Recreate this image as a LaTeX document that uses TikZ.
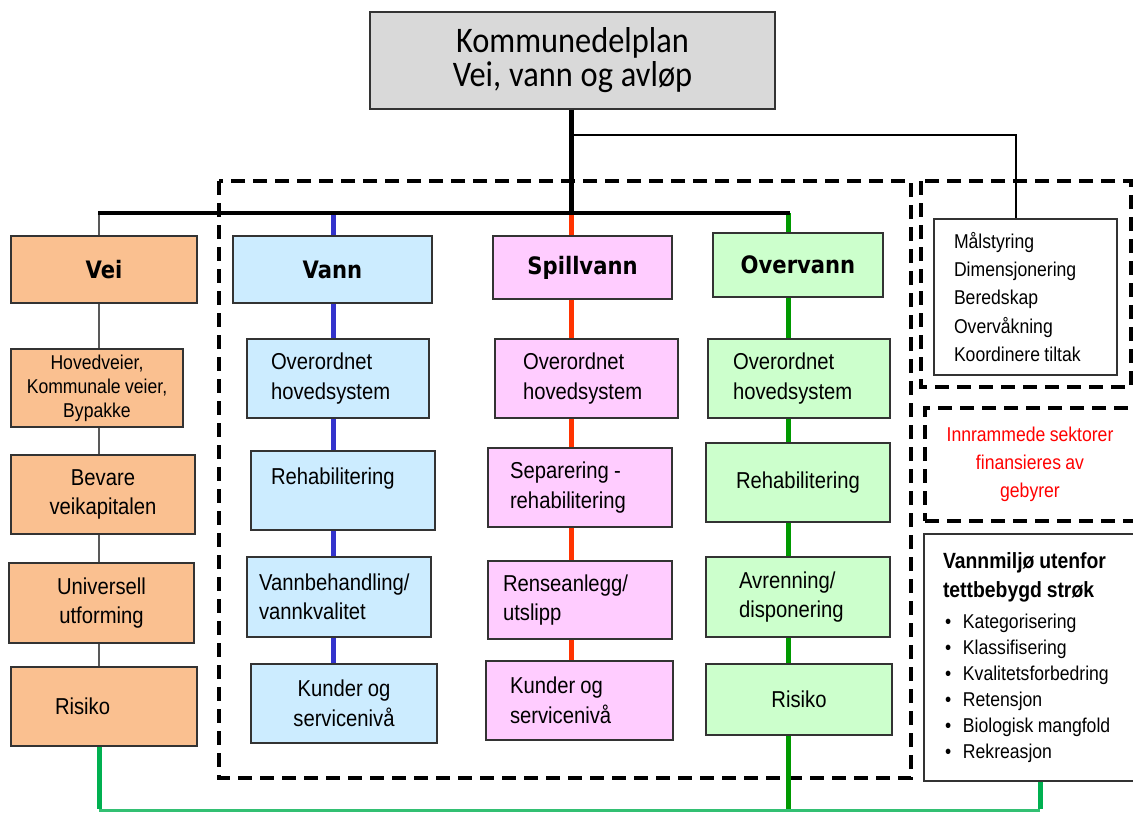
\documentclass[tikz,border=0pt]{standalone}
\usepackage{fontspec}
\setmainfont{Liberation Sans}[FakeStretch=0.88]
\newfontfamily\titlefnt{DejaVu Sans}[FakeStretch=0.88]
\newfontfamily\planfnt{Carlito}[FakeStretch=0.9]
\usepackage{tikz}

\newcommand{\tightspace}{\spaceskip=0.22em plus 0.05em minus 0.02em\relax}
\newcommand{\bodyfnt}{\fontsize{23pt}{29.5pt}\selectfont\tightspace}
\newcommand{\smallfnt}{\fontsize{20pt}{24pt}\selectfont\tightspace}
\newcommand{\notefnt}{\fontsize{20pt}{28.3pt}\selectfont\tightspace}

\definecolor{planfill}{HTML}{D9D9D9}
\definecolor{veifill}{HTML}{FAC090}
\definecolor{vannfill}{HTML}{CCECFF}
\definecolor{spillfill}{HTML}{FFCCFF}
\definecolor{overfill}{HTML}{CCFFCC}
\definecolor{vannblue}{HTML}{3333CC}
\definecolor{spillred}{HTML}{FF3300}
\definecolor{overgreen}{HTML}{009900}
\definecolor{groundgreen}{HTML}{00B050}
\definecolor{veigray}{HTML}{595959}

\begin{document}
\begin{tikzpicture}[x=1pt, y=-1pt, thick]
    % Styles
    \tikzstyle{cell} = [rectangle, draw=black!80, line width=1.2pt, inner ysep=0pt, align=left, font=\bodyfnt, execute at begin node={\tightspace}]
    \tikzstyle{titlecell} = [align=center, font=\titlefnt\bfseries\fontsize{24pt}{28pt}\selectfont]
    \tikzstyle{planbox} = [cell, fill=planfill, align=center, font=\planfnt\fontsize{36pt}{34pt}\selectfont]
    \tikzstyle{veibox} = [cell, fill=veifill]
    \tikzstyle{vannbox} = [cell, fill=vannfill]
    \tikzstyle{spillbox} = [cell, fill=spillfill]
    \tikzstyle{overbox} = [cell, fill=overfill]
    \tikzstyle{dashframe} = [draw, line width=3.5pt, dash pattern=on 14pt off 8pt]
    \tikzstyle{trunkline} = [draw, line width=5pt]
    \tikzstyle{busline} = [draw, line width=4pt]
    \tikzstyle{forkline} = [draw, line width=2.5pt]
    \tikzstyle{veiline} = [draw, veigray, line width=2pt]
    \tikzstyle{vannline} = [draw, vannblue, line width=5pt]
    \tikzstyle{spillline} = [draw, spillred, line width=5pt]
    \tikzstyle{overline} = [draw, overgreen, line width=5pt]
    \tikzstyle{groundline} = [draw, groundgreen, line width=5pt]
    \tikzstyle{groundthin} = [draw, groundgreen!80, line width=3pt]

    \useasboundingbox (0,0) rectangle (1133,812);
    \fill[white] (0,0) rectangle (1133,812);

    % Frames for the sectors paid by fees
    \draw[dashframe] (219,181) rectangle (911,778);
    \draw[dashframe] (921,181) rectangle (1131,387);

    % Coordinates
    \coordinate (veix) at (99,213);
    \coordinate (vannx) at (333,213);
    \coordinate (spillx) at (571,213);
    \coordinate (overx) at (788,213);
    \coordinate (fork) at (571,135);
    \coordinate (ground) at (0,810);

    % Nodes
    \node [planbox, minimum width=405pt, minimum height=97pt] (plan) at (572.5,60.5) {Kommunedelplan\\Vei, vann og avløp};

    \node [veibox, titlecell, minimum width=186pt, minimum height=67pt] (vei0) at (104,269.5) {Vei};
    \node [veibox, align=center, font=\smallfnt, minimum width=172pt, minimum height=78pt] (vei1) at (97,388) {Hovedveier,\\Kommunale veier,\\Bypakke};
    \node [veibox, align=center, minimum width=184pt, minimum height=79pt] (vei2) at (103,494.5) {Bevare\\veikapitalen};
    \node [veibox, align=center, minimum width=185pt, minimum height=80pt] (vei3) at (101.5,603) {Universell\\utforming};
    \node [veibox, text width=98pt, inner xsep=44pt, minimum height=79pt] (vei4) at (104,706.5) {Risiko};

    \node [vannbox, titlecell, minimum width=199pt, minimum height=67pt] (vann0) at (332.5,269.5) {Vann};
    \node [vannbox, text width=134pt, inner xsep=24pt, minimum height=79pt] (vann1) at (338,378.5) {Overordnet\\hovedsystem};
    \node [vannbox, text width=144pt, inner xsep=20pt, minimum height=79pt] (vann2) at (343,490.5) {Rehabilitering\\\mbox{}};
    \node [vannbox, text width=160pt, inner xsep=12pt, minimum height=80pt] (vann3) at (339,597) {Vannbehandling/\\vannkvalitet};
    \node [vannbox, align=center, minimum width=186pt, minimum height=79pt] (vann4) at (344,703.5) {Kunder og\\servicenivå};

    \node [spillbox, titlecell, minimum width=179pt, minimum height=63pt] (spill0) at (582.5,267.5) {Spillvann};
    \node [spillbox, text width=127pt, inner xsep=28pt, minimum height=79pt] (spill1) at (586.5,378.5) {Overordnet\\hovedsystem};
    \node [spillbox, text width=140pt, inner xsep=22pt, minimum height=79pt] (spill2) at (580,487.5) {Separering -\\rehabilitering};
    \node [spillbox, text width=154pt, inner xsep=15pt, minimum height=78pt] (spill3) at (580,600) {Renseanlegg/\\utslipp};
    \node [spillbox, text width=139pt, inner xsep=24pt, minimum height=79pt] (spill4) at (579.5,700.5) {Kunder og\\servicenivå};

    \node [overbox, titlecell, minimum width=170pt, minimum height=64pt] (over0) at (798,265) {Overvann};
    \node [overbox, text width=132pt, inner xsep=25pt, minimum height=79pt] (over1) at (799,378.5) {Overordnet\\hovedsystem};
    \node [overbox, align=center, minimum width=184pt, minimum height=79pt] (over2) at (798,482.5) {Rehabilitering};
    \node [overbox, text width=118pt, inner xsep=33pt, minimum height=80pt] (over3) at (798,597) {Avrenning/\\disponering};
    \node [overbox, align=center, minimum width=186pt, minimum height=71pt] (over4) at (799,699.5) {Risiko};

    \node [cell, fill=white, font=\notefnt, text width=143pt, inner xsep=20pt, minimum height=156pt] (tasks) at (1025.5,297) {Målstyring\\Dimensjonering\\Beredskap\\Overvåkning\\Koordinere tiltak};
    \node [dashframe, text=red, align=center, font=\notefnt, minimum width=210pt, minimum height=113pt] (fee) at (1030,464.5) {Innrammede sektorer\\finansieres av\\gebyrer};
    \node [cell, fill=white, text width=178pt, inner xsep=19pt, minimum height=247pt] (env) at (1032,657.5) {%
        {\bfseries\fontsize{22pt}{29pt}\selectfont\tightspace Vannmiljø utenfor\\tettbebygd strøk\par}
        \vspace{5pt}
        {\fontsize{20pt}{26pt}\selectfont\tightspace
        \hspace*{2pt}\makebox[18pt][l]{\textbullet}Kategorisering\\
        \hspace*{2pt}\makebox[18pt][l]{\textbullet}Klassifisering\\
        \hspace*{2pt}\makebox[18pt][l]{\textbullet}Kvalitetsforbedring\\
        \hspace*{2pt}\makebox[18pt][l]{\textbullet}Retensjon\\
        \hspace*{2pt}\makebox[18pt][l]{\textbullet}Biologisk mangfold\\
        \hspace*{2pt}\makebox[18pt][l]{\textbullet}Rekreasjon\par}};

    % Edges
    \draw [veiline] (veix) -- (veix |- vei0.north);
    \draw [veiline] (veix |- vei0.south) -- (veix |- vei1.north);
    \draw [veiline] (veix |- vei1.south) -- (veix |- vei2.north);
    \draw [veiline] (veix |- vei2.south) -- (veix |- vei3.north);
    \draw [veiline] (veix |- vei3.south) -- (veix |- vei4.north);

    \draw [vannline] (vannx) -- (vannx |- vann0.north);
    \draw [vannline] (vannx |- vann0.south) -- (vannx |- vann1.north);
    \draw [vannline] (vannx |- vann1.south) -- (vannx |- vann2.north);
    \draw [vannline] (vannx |- vann2.south) -- (vannx |- vann3.north);
    \draw [vannline] (vannx |- vann3.south) -- (vannx |- vann4.north);

    \draw [spillline] (spillx) -- (spillx |- spill0.north);
    \draw [spillline] (spillx |- spill0.south) -- (spillx |- spill1.north);
    \draw [spillline] (spillx |- spill1.south) -- (spillx |- spill2.north);
    \draw [spillline] (spillx |- spill2.south) -- (spillx |- spill3.north);
    \draw [spillline] (spillx |- spill3.south) -- (spillx |- spill4.north);

    \draw [overline] (overx) -- (overx |- over0.north);
    \draw [overline] (overx |- over0.south) -- (overx |- over1.north);
    \draw [overline] (overx |- over1.south) -- (overx |- over2.north);
    \draw [overline] (overx |- over2.south) -- (overx |- over3.north);
    \draw [overline] (overx |- over3.south) -- (overx |- over4.north);
    \draw [overline] (overx |- over4.south) -- (overx |- ground);

    % Main trunk and bus
    \draw [trunkline] (plan.south -| spillx) -- (spillx);
    \draw [busline] ([xshift=-1pt]veix) -- ([xshift=2pt]overx);
    \draw [forkline] (fork) -| ([xshift=-9.5pt]tasks.north);

    % Link along the bottom
    \draw [groundthin] (veix |- ground) -- ([xshift=8pt]env.south |- ground);
    \draw [groundline] (veix |- vei4.south) -- ([yshift=1.5pt]veix |- ground);
    \draw [groundline] ([xshift=8pt]env.south) -- ([xshift=8pt,yshift=1.5pt]env.south |- ground);

\end{tikzpicture}
\end{document}
